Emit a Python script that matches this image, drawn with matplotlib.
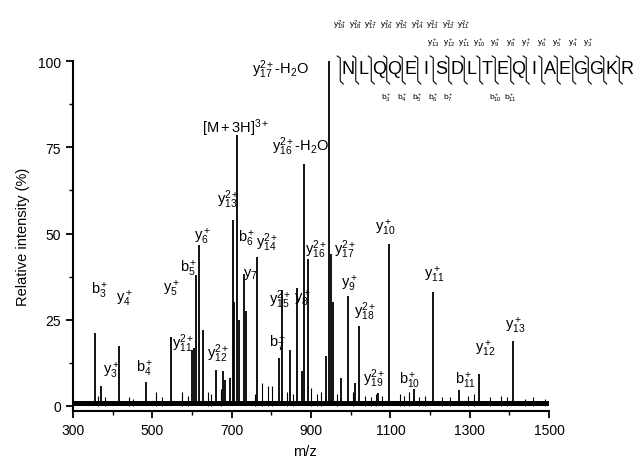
import matplotlib
matplotlib.use("Agg")
import matplotlib.pyplot as plt
from matplotlib.lines import Line2D

plt.rcParams['font.family'] = ['Liberation Sans', 'DejaVu Sans']
plt.rcParams['mathtext.fontset'] = 'custom'
plt.rcParams['mathtext.rm'] = 'Liberation Sans'
plt.rcParams['mathtext.it'] = 'Liberation Sans'
plt.rcParams['mathtext.default'] = 'regular'

# major peaks (m/z, relative intensity %)
peak_mz = [355.6, 371, 417, 483, 547, 600, 604, 611, 616.5, 627, 660, 678, 684, 696,
           703, 707, 713, 719, 730, 737, 765, 818, 828, 846, 864, 876, 882, 892,
           938, 945, 951, 955, 975, 993, 1012, 1020, 1069, 1096, 1159, 1207, 1273,
           1324, 1410]
peak_int = [21, 5.8, 17.3, 7, 20, 16.3, 16.8, 38, 46.6, 22, 10.5, 10.2, 7.6, 8,
            54, 30, 78.7, 25, 38.4, 27.5, 43.3, 13.9, 33.6, 16.3, 34.1, 10, 70.2, 42.5,
            14.5, 100, 44.2, 30, 8, 31.8, 6.6, 23.1, 3.8, 47.1, 4.9, 33.1, 4.6,
            9.3, 18.9]

# small peaks above the noise floor
minor_mz = [362, 380, 440, 452, 509, 525, 574, 590, 640, 648, 672, 760, 776, 792,
            802, 840, 855, 901, 915, 925, 965, 1005, 1035, 1050, 1063, 1080, 1123,
            1135, 1146, 1172, 1186, 1230, 1250, 1295, 1310, 1350, 1378, 1395, 1440,
            1460, 1490]
minor_int = [3.0, 2.5, 2.5, 2.0, 4.0, 2.5, 4.0, 3.0, 4.0, 3.5, 5.0, 3.5, 6.6, 5.8,
             5.8, 4.0, 3.5, 5.2, 3.5, 4.0, 3.5, 4.0, 3.0, 2.5, 3.5, 3.0, 3.5,
             3.0, 4.0, 2.5, 3.0, 2.5, 2.5, 3.0, 3.5, 2.5, 3.0, 2.5, 2.0,
             2.5, 2.0]
noise_level = 1.3
mz_range = [300, 1500]

# peak annotations: text, m/z, intensity of the label centre
ann_text = [r'$b_3^+$', r'$y_3^+$', r'$y_4^+$', r'$b_4^+$', r'$y_5^+$', r'$y_{11}^{2+}$',
            r'$b_5^+$', r'$y_6^+$', r'$y_{12}^{2+}$', r'$y_{13}^{2+}$', r'$[M+3H]^{3+}$',
            r'$b_6^+$', r'$y_7$', r'$y_{14}^{2+}$', r'$y_{16}^{2+}$-$H_2O$', r'$b_7^+$',
            r'$y_{15}^{2+}$', r'$y_8^+$', r'$y_{16}^{2+}$', r'$y_{17}^{2+}$', r'$y_9^+$',
            r'$y_{18}^{2+}$', r'$y_{10}^+$', r'$y_{19}^{2+}$', r'$b_{10}^+$', r'$y_{11}^+$',
            r'$b_{11}^+$', r'$y_{12}^+$', r'$y_{13}^+$', r'$y_{17}^{2+}$-$H_2O$']
ann_mz = [368, 396, 429, 482, 547, 578, 592, 626, 666, 691, 709, 737, 748, 789, 873,
          815, 823, 877, 914, 987, 997, 1037, 1088, 1060, 1148, 1209, 1290, 1338, 1414,
          823]
ann_int = [33.5, 10.4, 31.2, 11, 34.1, 18.2, 39.9, 49.4, 15.3, 60.1, 80.9, 48.6, 38.5,
           47.7, 75.4, 18.2, 31.2, 31.2, 45.7, 45.7, 35.5, 27.7, 52, 8.1, 7.5, 38.4,
           7.5, 16.8, 23.4, 97.7]

sequence = "NLQQEISDLTEQIAEGGKR"
y2_ions = [19, 18, 17, 16, 15, 14, 13, 12, 11]
y1_ions = [13, 12, 11, 10, 9, 8, 7, 6, 5, 4, 3]
b1_ions = [3, 4, 5, 6, 7, 10, 11]

fig = plt.figure(figsize=(6.4, 4.64), dpi=100)
ax = fig.add_axes([0.114, 0.112, 0.744, 0.754])

ax.fill_between(mz_range, 0, noise_level, color='black', lw=0)
ax.vlines(minor_mz, 0, minor_int, color='black', lw=0.8)
ax.vlines(peak_mz, 0, peak_int, color='black', lw=1.3)

for t, x, y in zip(ann_text, ann_mz, ann_int):
    ax.text(x, y, t, ha='center', va='center', fontsize=10.5)

ax.set_xlim(300, 1500)
ax.set_ylim(-1.5, 100)
ax.set_xticks([300, 500, 700, 900, 1100, 1300, 1500])
ax.set_xticks(range(400, 1500, 200), minor=True)
ax.set_yticks([0, 25, 50, 75, 100])
ax.set_yticks([12.5, 37.5, 62.5, 87.5], minor=True)
ax.tick_params(direction='out', labelsize=10, width=1.3, length=5)
ax.tick_params(which='minor', direction='out', width=1.0, length=3)
for s in ['top', 'right']:
    ax.spines[s].set_visible(False)
for s in ['left', 'bottom']:
    ax.spines[s].set_linewidth(1.5)
ax.spines['bottom'].set_bounds(300, 1500)
ax.set_ylabel('Relative intensity (%)', fontsize=10.5, labelpad=6)

# peptide sequence with fragment map (figure pixel coordinates)
W, H = 640.0, 464.0
x0, dx, yl = 348.0, 15.5, 70.0


def fx(px):
    return px / W


def fy(py):
    return 1 - py / H


fig.text(fx(305), fy(452), 'm/z', ha='center', va='center', fontsize=10.5)

for i, aa in enumerate(sequence):
    fig.text(fx(x0 + dx * i), fy(yl), aa, ha='center', va='center', fontsize=13)
for i in range(len(sequence)):
    xm = x0 + dx * (i - 0.5)
    fig.add_artist(Line2D([fx(xm - 3), fx(xm), fx(xm), fx(xm + 3)],
                          [fy(57), fy(59), fy(82), fy(85)], color='black', lw=0.8))
for n in y2_ions:
    xm = x0 + dx * (18.5 - n)
    fig.text(fx(xm), fy(25), r'$y_{%d}^{2+}$' % n, ha='center', va='center', fontsize=6)
for n in y1_ions:
    xm = x0 + dx * (18.5 - n)
    fig.text(fx(xm), fy(43), r'$y_{%d}^+$' % n, ha='center', va='center', fontsize=6)
for n in b1_ions:
    xm = x0 + dx * (n - 0.5)
    fig.text(fx(xm), fy(98), r'$b_{%d}^+$' % n, ha='center', va='center', fontsize=6)

fig.savefig('out.png', dpi=100)
